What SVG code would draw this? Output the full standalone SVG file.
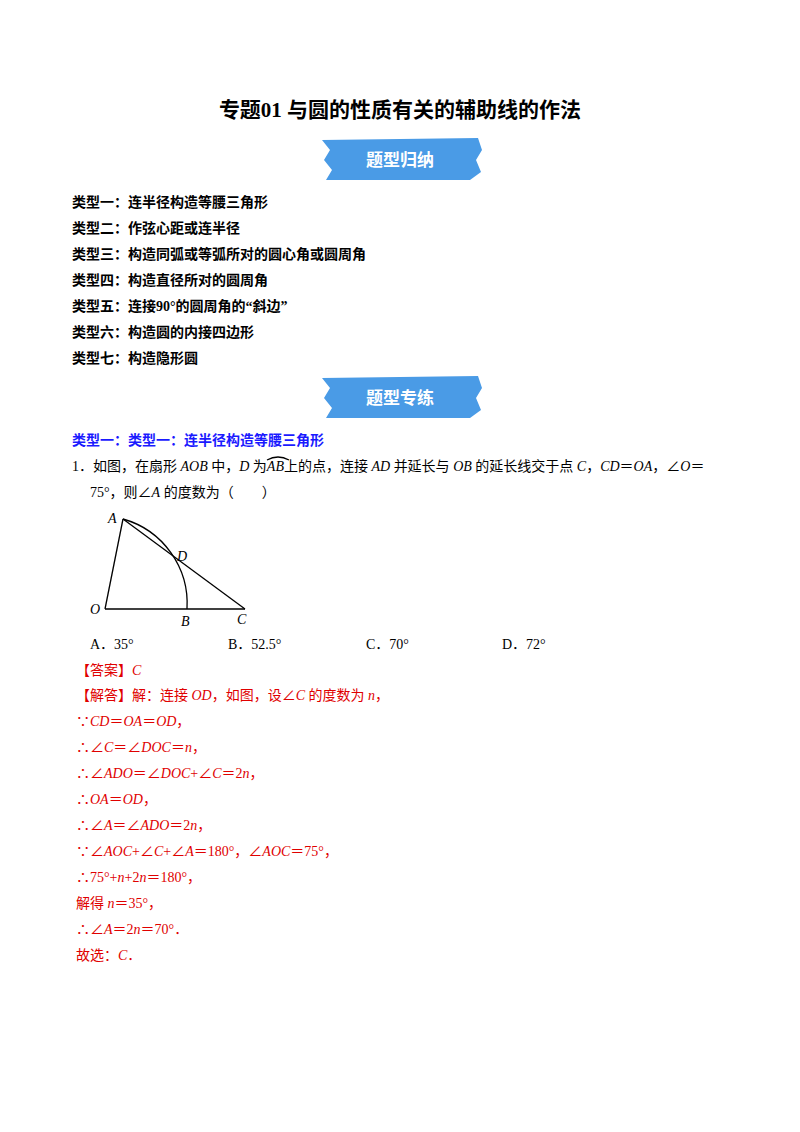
<svg xmlns="http://www.w3.org/2000/svg" width="800" height="1132" viewBox="0 0 800 1132">
<style>
.b{font-family:"Liberation Serif","Noto Sans CJK SC",serif;font-size:14px;font-weight:bold;fill:#000}
.t{font-family:"Liberation Serif","Noto Sans CJK SC",serif;font-size:14px;fill:#000}
.r{font-family:"Liberation Serif","Noto Sans CJK SC",serif;font-size:14px;fill:#e00000}
.i{font-style:italic}
.ban{font-family:"Noto Sans CJK SC",sans-serif;font-size:17px;font-weight:bold;fill:#fff}
.g{stroke:#000;stroke-width:1.3;fill:none}
.lb{font-family:"Liberation Serif",serif;font-size:14px;font-style:italic}
</style>
<rect width="800" height="1132" fill="#fff"/>
<text x="400" y="117" text-anchor="middle" font-family="Liberation Serif,Noto Sans CJK SC,serif" font-size="21" font-weight="bold">专题01  与圆的性质有关的辅助线的作法</text>
<g id="banner1">
<path d="M322,140 L478,138 L482,150 L476,160 L481,172 L470,180 L326,180 L332,170 L324,160 L330,150 Z" fill="#4a9be6"/>
<text x="400" y="166" text-anchor="middle" class="ban">题型归纳</text>
</g>
<g id="list">
<text x="72" y="207" class="b">类型一：连半径构造等腰三角形</text>
<text x="72" y="233" class="b">类型二：作弦心距或连半径</text>
<text x="72" y="259" class="b">类型三：构造同弧或等弧所对的圆心角或圆周角</text>
<text x="72" y="285" class="b">类型四：构造直径所对的圆周角</text>
<text x="72" y="311" class="b">类型五：连接90°的圆周角的“斜边”</text>
<text x="72" y="337" class="b">类型六：构造圆的内接四边形</text>
<text x="72" y="363" class="b">类型七：构造隐形圆</text>
</g>
<g id="banner2">
<path d="M322,378 L478,376 L482,388 L476,398 L481,410 L470,418 L326,418 L332,408 L324,398 L330,388 Z" fill="#4a9be6"/>
<text x="400" y="404" text-anchor="middle" class="ban">题型专练</text>
</g>
<text x="72" y="445" class="b" style="fill:#1a1aff">类型一：类型一：连半径构造等腰三角形</text>
<text x="72" y="471" class="t">1．如图，在扇形 <tspan class="i">AOB</tspan> 中，<tspan class="i">D</tspan> 为<tspan class="i">AB</tspan>上的点，连接 <tspan class="i">AD</tspan> 并延长与 <tspan class="i">OB</tspan> 的延长线交于点 <tspan class="i">C</tspan>，<tspan class="i">CD</tspan>＝<tspan class="i">OA</tspan>，∠<tspan class="i">O</tspan>＝</text>
<path d="M267,460 Q278,454 289,460" class="g" stroke-width="1"/>
<text x="90" y="497" class="t">75°，则∠<tspan class="i">A</tspan> 的度数为（　　）</text>
<g id="figure">
<line x1="105" y1="609" x2="123" y2="519" class="g"/>
<line x1="105" y1="609" x2="245" y2="609" class="g"/>
<line x1="123" y1="519" x2="245" y2="609" class="g"/>
<path d="M123,519 A88,88 0 0 1 187,609" class="g"/>
<text x="108" y="523" class="lb">A</text>
<text x="177" y="561" class="lb">D</text>
<text x="90" y="614" class="lb">O</text>
<text x="181" y="626" class="lb">B</text>
<text x="237" y="624" class="lb">C</text>
</g>
<g id="choices">
<text x="90" y="649" class="t">A．35°</text>
<text x="228" y="649" class="t">B．52.5°</text>
<text x="366" y="649" class="t">C．70°</text>
<text x="502" y="649" class="t">D．72°</text>
</g>
<g id="answer">
<text x="76" y="675" class="r">【答案】<tspan class="i">C</tspan></text>
<text x="76" y="700" class="r">【解答】解：连接 <tspan class="i">OD</tspan>，如图，设∠<tspan class="i">C</tspan> 的度数为 <tspan class="i">n</tspan>，</text>
<text x="76" y="726" class="r">∵<tspan class="i">CD</tspan>＝<tspan class="i">OA</tspan>＝<tspan class="i">OD</tspan>，</text>
<text x="76" y="752" class="r">∴∠<tspan class="i">C</tspan>＝∠<tspan class="i">DOC</tspan>＝<tspan class="i">n</tspan>，</text>
<text x="76" y="778" class="r">∴∠<tspan class="i">ADO</tspan>＝∠<tspan class="i">DOC</tspan>+∠<tspan class="i">C</tspan>＝2<tspan class="i">n</tspan>，</text>
<text x="76" y="804" class="r">∴<tspan class="i">OA</tspan>＝<tspan class="i">OD</tspan>，</text>
<text x="76" y="830" class="r">∴∠<tspan class="i">A</tspan>＝∠<tspan class="i">ADO</tspan>＝2<tspan class="i">n</tspan>，</text>
<text x="76" y="856" class="r">∵∠<tspan class="i">AOC</tspan>+∠<tspan class="i">C</tspan>+∠<tspan class="i">A</tspan>＝180°，∠<tspan class="i">AOC</tspan>＝75°，</text>
<text x="76" y="882" class="r">∴75°+<tspan class="i">n</tspan>+2<tspan class="i">n</tspan>＝180°，</text>
<text x="76" y="908" class="r">解得 <tspan class="i">n</tspan>＝35°，</text>
<text x="76" y="934" class="r">∴∠<tspan class="i">A</tspan>＝2<tspan class="i">n</tspan>＝70°．</text>
<text x="76" y="960" class="r">故选：<tspan class="i">C</tspan>．</text>
</g>
</svg>
